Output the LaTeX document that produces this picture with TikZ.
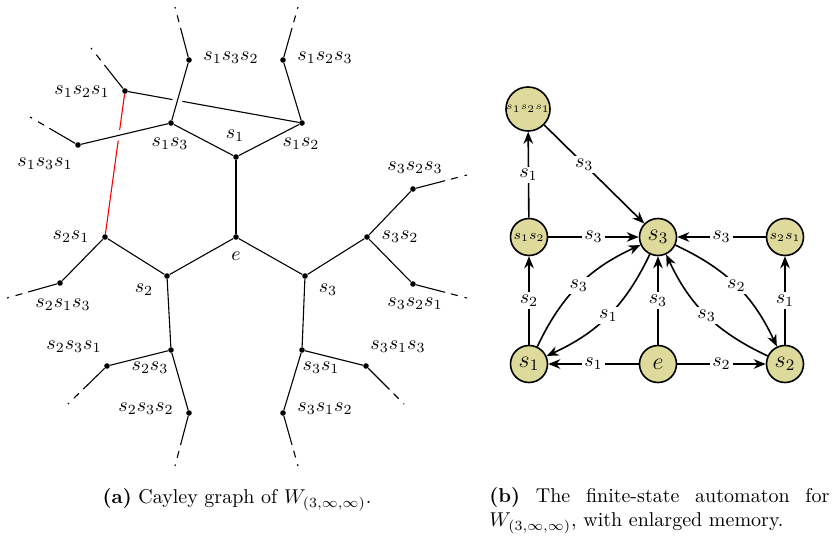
\documentclass[tikz,border=0pt]{standalone}
\usepackage{amsmath}
\usetikzlibrary{calc,arrows.meta}
\begin{document}
\begin{tikzpicture}[x=0.5pt,y=0.5pt,
  dot/.style={circle,fill=black,inner sep=0pt,minimum size=2.8pt},
  cedge/.style={line width=0.55pt},
  ext/.style={line width=0.55pt,dash pattern=on 15pt off 3pt on 3.5pt off 3.5pt on 2pt off 30pt},
  lbl/.style={inner sep=0pt},
  gap/.style={white,line width=5pt},
  st/.style={circle,draw,thick,fill=olive!30,minimum size=18.5pt,inner sep=0pt},
  tr/.style={thick,-{Stealth[length=6pt,width=4.8pt]}},
  el/.style={fill=white,inner sep=1.2pt}
]
\useasboundingbox (0,0) rectangle (836,543);

% ---------- Cayley graph ----------
\node[dot] (e) at (236,306) {};
\node[dot] (g1) at (236,386) {};
\node[dot] (g2) at (167,267) {};
\node[dot] (g3) at (305,267) {};
\node[dot] (g13) at (171,420) {};
\node[dot] (g12) at (302,420) {};
\node[dot] (g132) at (189,483) {};
\node[dot] (g123) at (283,483) {};
\node[dot] (g121) at (125,452) {};
\node[dot] (g131) at (78,398) {};
\node[dot] (g21) at (105,306) {};
\node[dot] (g213) at (60,260) {};
\node[dot] (g32) at (367,306) {};
\node[dot] (g323) at (413,354) {};
\node[dot] (g321) at (413,259) {};
\node[dot] (g23) at (171,193) {};
\node[dot] (g231) at (107,177) {};
\node[dot] (g232) at (189,130) {};
\node[dot] (g31) at (302,193) {};
\node[dot] (g313) at (366,177) {};
\node[dot] (g312) at (283,130) {};

\coordinate (x132) at (175,536);
\coordinate (x123) at (298,536);
\coordinate (x121) at (91,495);
\coordinate (x131) at (30,426);
\coordinate (x213) at (7,245);
\coordinate (x323) at (467,368);
\coordinate (x321) at (467,245);
\coordinate (x231) at (68,139);
\coordinate (x232) at (175,77);
\coordinate (x313) at (404,139);
\coordinate (x312) at (298,77);

% under lines (with gaps)
\draw[cedge] (g121) -- (g12);
\draw[red,cedge] (g121) -- (g21);
\draw[gap] ($(g13)!0.25!(g132)$) -- ($(g13)!0.6!(g132)$);
\draw[gap] ($(g131)!0.25!(g13)$) -- ($(g131)!0.55!(g13)$);

% over lines
\draw[cedge] (e) -- (g1);
\draw[cedge] (e) -- (g2);
\draw[cedge] (e) -- (g3);
\draw[cedge] (g1) -- (g13);
\draw[cedge] (g1) -- (g12);
\draw[cedge] (g13) -- (g132);
\draw[cedge] (g13) -- (g131);
\draw[cedge] (g12) -- (g123);
\draw[cedge] (g2) -- (g21);
\draw[cedge] (g21) -- (g213);
\draw[cedge] (g2) -- (g23);
\draw[cedge] (g23) -- (g231);
\draw[cedge] (g23) -- (g232);
\draw[cedge] (g3) -- (g32);
\draw[cedge] (g32) -- (g323);
\draw[cedge] (g32) -- (g321);
\draw[cedge] (g3) -- (g31);
\draw[cedge] (g31) -- (g313);
\draw[cedge] (g31) -- (g312);

% dashed ends
\draw[ext] (g132) -- (x132);
\draw[ext] (g123) -- (x123);
\draw[ext] (g121) -- (x121);
\draw[ext] (g131) -- (x131);
\draw[ext] (g213) -- (x213);
\draw[ext] (g323) -- (x323);
\draw[ext] (g321) -- (x321);
\draw[ext] (g231) -- (x231);
\draw[ext] (g232) -- (x232);
\draw[ext] (g313) -- (x313);
\draw[ext] (g312) -- (x312);

% labels
\node[lbl] (l132) at (231,485) {$s_1s_3s_2$};
\node[lbl] (l123) at (325,485) {$s_1s_2s_3$};
\node[lbl] (l121) at (82,451) {$s_1s_2s_1$};
\node[lbl] (l131) at (45,379) {$s_1s_3s_1$};
\node[lbl] (l13) at (170,399) {$s_1s_3$};
\node[lbl] (l1) at (235,407) {$s_1$};
\node[lbl] (l12) at (301,399) {$s_1s_2$};
\node[lbl] (l323) at (415,375) {$s_3s_2s_3$};
\node[lbl] (l32) at (400,306) {$s_3s_2$};
\node[lbl] (l321) at (415,239) {$s_3s_2s_1$};
\node[lbl] (l21) at (71,306) {$s_2s_1$};
\node[lbl] (le) at (236,287) {$e$};
\node[lbl] (l2) at (144,253) {$s_2$};
\node[lbl] (l3) at (328,253) {$s_3$};
\node[lbl] (l213) at (63,238) {$s_2s_1s_3$};
\node[lbl] (l231) at (74,196) {$s_2s_3s_1$};
\node[lbl] (l313) at (398,196) {$s_3s_1s_3$};
\node[lbl] (l23) at (150,175) {$s_2s_3$};
\node[lbl] (l31) at (321,175) {$s_3s_1$};
\node[lbl] (l232) at (146,134) {$s_2s_3s_2$};
\node[lbl] (l312) at (325,134) {$s_3s_1s_2$};

% ---------- Automaton ----------
\node[st] (A121) at (528,434) {\fontsize{4.4pt}{5pt}\selectfont$s_1s_2s_1$};
\node[st] (A12) at (529,306) {\scriptsize$s_1s_2$};
\node[st] (A3) at (658,306) {\large$s_3$};
\node[st] (A21) at (785,306) {\scriptsize$s_2s_1$};
\node[st] (A1) at (529,179) {\large$s_1$};
\node[st] (Ae) at (658,179) {\large$e$};
\node[st] (A2) at (785,179) {\large$s_2$};

\draw[tr] (A12) -- node[el]{$s_1$} (A121);
\draw[tr] (A121) -- node[el,pos=0.4]{$s_3$} (A3);
\draw[tr] (A12) -- node[el]{$s_3$} (A3);
\draw[tr] (A21) -- node[el]{$s_3$} (A3);
\draw[tr] (A1) -- node[el]{$s_2$} (A12);
\draw[tr] (A2) -- node[el]{$s_1$} (A21);
\draw[tr] (Ae) -- node[el]{$s_1$} (A1);
\draw[tr] (Ae) -- node[el]{$s_2$} (A2);
\draw[tr] (Ae) -- node[el]{$s_3$} (A3);
\draw[tr] (A1) to[bend left=20] node[el]{$s_3$} (A3);
\draw[tr] (A3) to[bend left=20] node[el]{$s_1$} (A1);
\draw[tr] (A3) to[bend left=20] node[el]{$s_2$} (A2);
\draw[tr] (A2) to[bend left=20] node[el]{$s_3$} (A3);

% ---------- captions ----------
\node[inner sep=0pt] (capa) at (237,43) {\textbf{(a)} Cayley graph of $W_{(3,\infty,\infty)}$.};
\node[inner sep=0pt,anchor=north west,text width=170pt,align=justify] (capb) at (489,56)
  {\textbf{(b)} The finite-state automaton for\linebreak $W_{(3,\infty,\infty)}$, with enlarged memory.};
\end{tikzpicture}
\end{document}
